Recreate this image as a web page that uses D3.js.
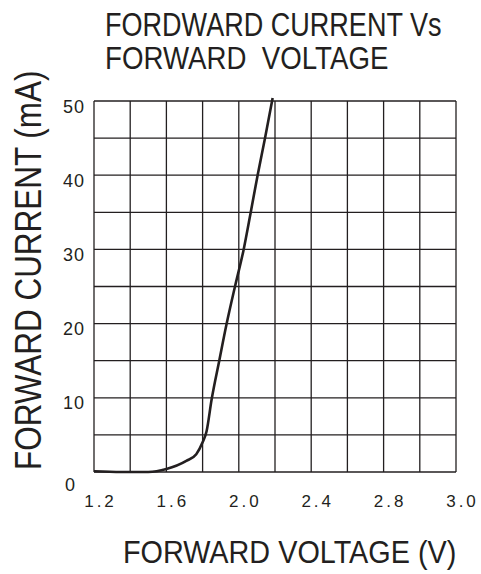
<!DOCTYPE html>
<html>
<head>
<meta charset="utf-8">
<script src="https://cdn.jsdelivr.net/npm/d3@7"></script>
<style>
  body { margin: 0; background: #fff; }
  text { font-family: "Liberation Sans", Arial, sans-serif; fill: #231f20; }
</style>
</head>
<body>
<div id="chart"></div>
<script>
// forward voltage (V) vs forward current (mA)
const voltage = [1.2, 1.35, 1.5, 1.6, 1.71, 1.765, 1.8, 1.822, 1.85, 1.892, 1.933, 1.979, 2.027, 2.066, 2.104, 2.145, 2.187];
const current = [0.1, 0, 0, 0.4, 1.5, 2.4, 4.0, 5.5, 9.8, 15, 20, 25, 30, 35, 40, 45, 50.4];

const xTickValues = [1.2, 1.6, 2.0, 2.4, 2.8, 3.2];
const xTickLabels = ["1.2", "1.6", "2.0", "2.4", "2.8", "3.0"];
const yTickValues = [0, 10, 20, 30, 40, 50];

const W = 481, H = 574;
const plot = { left: 94, right: 456, top: 101, bottom: 472 };

const svg = d3.select("#chart").append("svg")
    .attr("width", W)
    .attr("height", H);

const x = d3.scaleLinear().domain([1.2, 3.2]).range([plot.left, plot.right]);
const y = d3.scaleLinear().domain([0, 50]).range([plot.bottom, plot.top]);

// grid (every 0.2 V and every 5 mA)
const grid = svg.append("g").attr("stroke", "#231f20").attr("stroke-width", 1.3);
grid.selectAll("line.v")
    .data(d3.range(0, 11).map(i => 1.2 + i * 0.2))
    .join("line")
    .attr("class", "v")
    .attr("x1", d => x(d)).attr("x2", d => x(d))
    .attr("y1", plot.top).attr("y2", plot.bottom);
grid.selectAll("line.h")
    .data(d3.range(0, 11).map(i => i * 5))
    .join("line")
    .attr("class", "h")
    .attr("x1", plot.left).attr("x2", plot.right)
    .attr("y1", d => y(d)).attr("y2", d => y(d));

// x tick labels
const xAxis = svg.append("g")
    .attr("transform", `translate(0,${plot.bottom})`)
    .call(d3.axisBottom(x)
        .tickValues(xTickValues)
        .tickSize(0)
        .tickFormat((d, i) => xTickLabels[i]));
xAxis.select(".domain").remove();
xAxis.selectAll("text")
    .attr("x", 6)
    .attr("y", 0)
    .attr("dy", 35)
    .attr("font-size", 17)
    .attr("letter-spacing", 3)
    .attr("fill", "#231f20");

// y tick labels
const yAxis = svg.append("g")
    .attr("transform", `translate(${plot.left},0)`)
    .call(d3.axisLeft(y).tickValues(yTickValues).tickSize(0));
yAxis.select(".domain").remove();
yAxis.selectAll("text")
    .attr("x", -9)
    .attr("dy", d => d === 0 ? "1.0em" : "0.62em")
    .attr("font-size", 18)
    .attr("letter-spacing", 1)
    .attr("fill", "#231f20");
yAxis.selectAll(".tick").filter(d => d === 0).select("text").attr("x", -18);

// curve
const line = d3.line()
    .x((d, i) => x(voltage[i]))
    .y(d => y(d))
    .curve(d3.curveMonotoneX);

svg.append("path")
    .datum(current)
    .attr("fill", "none")
    .attr("stroke", "#231f20")
    .attr("stroke-width", 2.6)
    .attr("d", line);

// titles: narrow lettering, squeezed sideways
function label(tx, ty, size, sx, str, rotate) {
    svg.append("g")
        .attr("transform", `translate(${tx},${ty})${rotate ? " rotate(-90)" : ""} scale(${sx},1)`)
        .append("text")
        .attr("font-size", size)
        .style("white-space", "pre")
        .text(str);
}
label(105, 36, 33, 0.82, "FORDWARD CURRENT Vs");
label(105, 69, 32, 0.865, "FORWARD  VOLTAGE");
label(123, 563, 32, 0.9, "FORWARD VOLTAGE (V)");
label(41, 470, 37, 0.85, "FORWARD CURRENT (mA)", true);
</script>
</body>
</html>
